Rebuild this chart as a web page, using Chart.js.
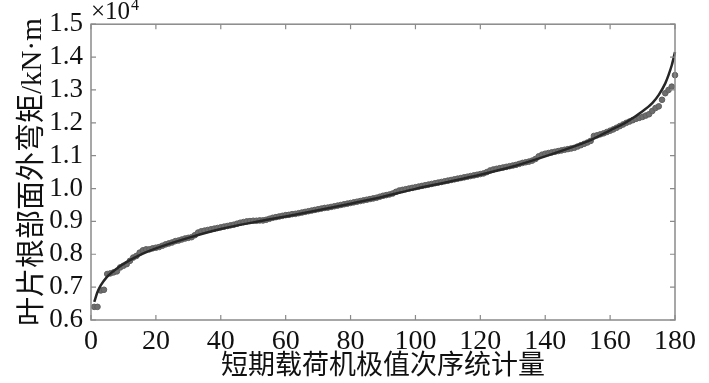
<!DOCTYPE html>
<html>
<head>
<meta charset="utf-8">
<script src="https://cdn.jsdelivr.net/npm/chart.js@4"></script>
<style>
  html, body { margin: 0; padding: 0; background: #fff; }
  #wrap { width: 709px; height: 383px; }
</style>
</head>
<body>
<div id="wrap"><canvas id="c" width="709" height="383"></canvas></div>
<script>
// order statistics of short-term extreme loads (values in 1e4 kN·m)
const sampleValues = [
  0.640, 0.640, 0.690, 0.692, 0.740, 0.742, 0.745, 0.748, 0.760, 0.765,
  0.770, 0.780, 0.790, 0.795, 0.805, 0.812, 0.815, 0.815, 0.818, 0.820,
  0.822, 0.826, 0.830, 0.833, 0.836, 0.840, 0.842, 0.845, 0.848, 0.850,
  0.852, 0.858, 0.866, 0.870, 0.872, 0.874, 0.876, 0.878, 0.880, 0.882,
  0.884, 0.886, 0.888, 0.890, 0.893, 0.896, 0.898, 0.900, 0.901, 0.902,
  0.902, 0.903, 0.903, 0.905, 0.908, 0.911, 0.913, 0.915, 0.917, 0.919,
  0.920, 0.922, 0.923, 0.925, 0.927, 0.929, 0.931, 0.933, 0.935, 0.937,
  0.939, 0.941, 0.942, 0.944, 0.946, 0.948, 0.950, 0.952, 0.954, 0.956,
  0.958, 0.960, 0.962, 0.964, 0.966, 0.968, 0.970, 0.972, 0.975, 0.978,
  0.980, 0.982, 0.985, 0.990, 0.994, 0.996, 0.998, 1.000, 1.002, 1.004,
  1.006, 1.008, 1.010, 1.012, 1.014, 1.016, 1.018, 1.020, 1.022, 1.024,
  1.026, 1.028, 1.030, 1.032, 1.034, 1.036, 1.038, 1.040, 1.042, 1.044,
  1.046, 1.050, 1.055, 1.058, 1.060, 1.062, 1.064, 1.066, 1.068, 1.070,
  1.072, 1.075, 1.078, 1.080, 1.082, 1.085, 1.090, 1.098, 1.103, 1.106,
  1.108, 1.110, 1.112, 1.114, 1.116, 1.118, 1.120, 1.122, 1.124, 1.128,
  1.132, 1.136, 1.140, 1.145, 1.160, 1.162, 1.165, 1.168, 1.172, 1.176,
  1.180, 1.185, 1.190, 1.195, 1.200, 1.204, 1.208, 1.212, 1.215, 1.218,
  1.222, 1.226, 1.236, 1.245, 1.250, 1.270, 1.290, 1.300, 1.310, 1.345
];

// fitted curve
const fitX = [1, 2, 3, 5, 8, 12, 16, 20, 30, 40, 50, 60, 70, 80, 90, 100,
  110, 120, 130, 140, 150, 155, 160, 165, 170, 173, 175, 177, 178, 179, 180];
const fitY = [0.655, 0.685, 0.705, 0.732, 0.757, 0.782, 0.802, 0.818, 0.850,
  0.877, 0.897, 0.915, 0.934, 0.954, 0.975, 0.999, 1.020, 1.042, 1.067, 1.098,
  1.132, 1.152, 1.177, 1.202, 1.235, 1.260, 1.285, 1.320, 1.345, 1.375, 1.415];

const xTicks = [0, 20, 40, 60, 80, 100, 120, 140, 160, 180];
const yTicks = [0.6, 0.7, 0.8, 0.9, 1.0, 1.1, 1.2, 1.3, 1.4, 1.5];

const serif = '"Liberation Serif", "Times New Roman", serif';
const titleFont = '"Liberation Serif", "Noto Sans CJK SC", serif';

const points = sampleValues.map((v, i) => ({ x: i + 1, y: v }));
const fitLine = fitX.map((x, i) => ({ x: x, y: fitY[i] }));

// box + inward ticks + exponent label, MATLAB style
const boxPlugin = {
  id: 'box',
  afterDraw(chart) {
    const { ctx, chartArea: a, scales } = chart;
    ctx.save();
    ctx.strokeStyle = '#8a8a8a';
    ctx.lineWidth = 1.5;
    ctx.strokeRect(a.left, a.top, a.right - a.left, a.bottom - a.top);
    ctx.lineWidth = 1.2;
    ctx.beginPath();
    xTicks.forEach(t => {
      const px = scales.x.getPixelForValue(t);
      ctx.moveTo(px, a.bottom); ctx.lineTo(px, a.bottom - 5);
      ctx.moveTo(px, a.top); ctx.lineTo(px, a.top + 5);
    });
    yTicks.forEach(t => {
      const py = scales.y.getPixelForValue(t);
      ctx.moveTo(a.left, py); ctx.lineTo(a.left + 5, py);
      ctx.moveTo(a.right, py); ctx.lineTo(a.right - 5, py);
    });
    ctx.stroke();

    ctx.fillStyle = '#111';
    ctx.textBaseline = 'alphabetic';
    ctx.font = '25px ' + serif;
    ctx.fillText('\u00d710', a.left, 19);
    const w = ctx.measureText('\u00d710').width;
    ctx.font = '16px ' + serif;
    ctx.fillText('4', a.left + w + 1, 10);
    ctx.restore();
  }
};

new Chart(document.getElementById('c'), {
  type: 'scatter',
  data: {
    datasets: [
      {
        type: 'line',
        data: fitLine,
        borderColor: '#262626',
        borderWidth: 2.5,
        pointRadius: 0,
        cubicInterpolationMode: 'monotone',
        fill: false,
        clip: false,
        order: 0
      },
      {
        data: points,
        backgroundColor: '#6e6e6e',
        borderColor: '#5e5e5e',
        borderWidth: 1,
        pointRadius: 2.8,
        clip: false,
        order: 1
      }
    ]
  },
  options: {
    responsive: false,
    devicePixelRatio: 1,
    animation: false,
    layout: { padding: { top: 22, right: 34, left: 0, bottom: 0 } },
    plugins: { legend: { display: false }, tooltip: { enabled: false } },
    scales: {
      x: {
        type: 'linear',
        min: 0,
        max: 180,
        afterFit(s) { s.height = 63; },
        afterBuildTicks(s) { s.ticks = xTicks.map(v => ({ value: v })); },
        grid: { display: false, drawTicks: false },
        border: { display: false },
        ticks: { color: '#111', font: { family: serif, size: 28 }, padding: 5, maxRotation: 0, autoSkip: false },
        title: {
          display: true,
          text: '短期载荷机极值次序统计量',
          color: '#111',
          font: { family: titleFont, size: 27 },
          padding: { top: 0, bottom: 0 }
        }
      },
      y: {
        min: 0.6,
        max: 1.5,
        afterFit(s) { s.width = 91; },
        afterBuildTicks(s) { s.ticks = yTicks.map(v => ({ value: v })); },
        grid: { display: false, drawTicks: false },
        border: { display: false },
        ticks: {
          color: '#111',
          font: { family: serif, size: 27 },
          padding: 8,
          autoSkip: false,
          callback: v => Number(v).toFixed(1)
        },
        title: {
          display: true,
          text: '叶片根部面外弯矩/kN\u00b7m',
          color: '#111',
          font: { family: titleFont, size: 29 },
          padding: { top: 16, bottom: 0 }
        }
      }
    }
  },
  plugins: [boxPlugin]
});
</script>
</body>
</html>
